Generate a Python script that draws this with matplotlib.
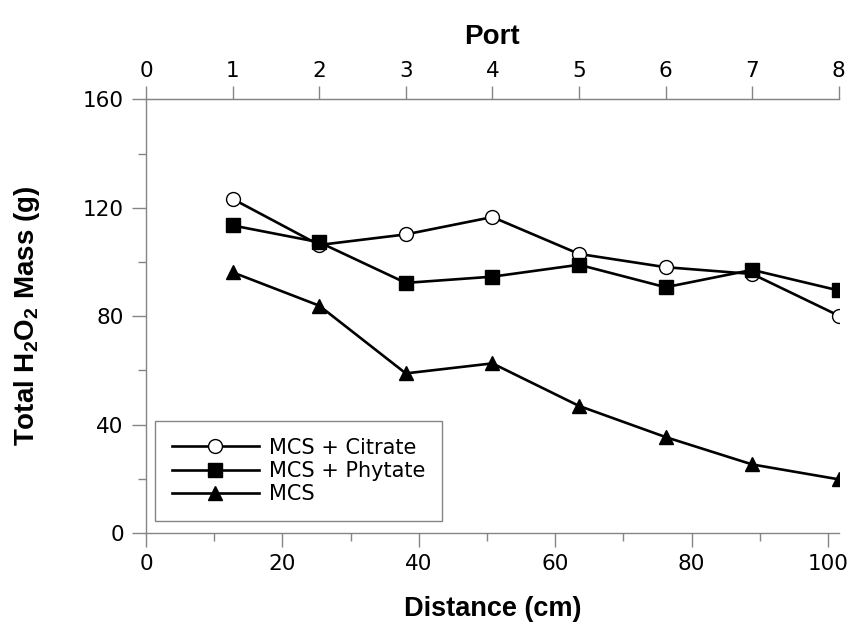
import matplotlib
matplotlib.use("Agg")
import matplotlib.pyplot as plt
from matplotlib.ticker import MultipleLocator

plt.rcParams['font.family'] = ['DejaVu Sans']
plt.rcParams['mathtext.fontset'] = 'custom'
plt.rcParams['mathtext.rm'] = 'Liberation Sans:bold'
plt.rcParams['mathtext.bf'] = 'Liberation Sans:bold'

port_spacing = 12.7
ports = [1, 2, 3, 4, 5, 6, 7, 8]
distance = [p * port_spacing for p in ports]
citrate = [123.3, 106.3, 110.2, 116.6, 103.0, 98.1, 95.6, 80.2]
phytate = [113.5, 107.3, 92.3, 94.6, 99.0, 90.7, 97.1, 89.5]
mcs = [96.2, 83.9, 58.9, 62.6, 46.9, 35.4, 25.3, 19.8]
series_labels = ["MCS + Citrate", "MCS + Phytate", "MCS"]
top_ticks = list(range(0, 9))

fig = plt.figure(figsize=(8.5, 6.22), dpi=100)
ax = fig.add_axes([0.1718, 0.1431, 0.815, 0.697])

spine_col = '#858585'
lw = 1.9
ax.plot(distance, citrate, '-o', color='black', lw=lw, ms=10, mfc='white',
        mec='black', mew=1, label=series_labels[0])
ax.plot(distance, phytate, '-s', color='black', lw=lw, ms=10, mfc='black',
        mec='black', label=series_labels[1])
ax.plot(distance, mcs, '-^', color='black', lw=lw, ms=10, mfc='black',
        mec='black', label=series_labels[2])

ax.set_xlim(0, 8 * port_spacing)
ax.set_ylim(0, 160)
ax.xaxis.set_major_locator(MultipleLocator(20))
ax.xaxis.set_minor_locator(MultipleLocator(10))
ax.yaxis.set_major_locator(MultipleLocator(40))
ax.yaxis.set_minor_locator(MultipleLocator(20))

for s in ['left', 'bottom', 'top']:
    ax.spines[s].set_color(spine_col)
    ax.spines[s].set_linewidth(1.0)
ax.spines['right'].set_visible(False)

ax.tick_params(axis='both', which='major', direction='out', length=10,
               width=1, color=spine_col, labelsize=15.5)
ax.tick_params(axis='y', which='major', pad=6)
ax.tick_params(axis='x', which='major', pad=5)
ax.tick_params(axis='both', which='minor', direction='out', length=6,
               width=1, color=spine_col)
ax.tick_params(axis='x', which='both', top=False)

sec = ax.secondary_xaxis('top', functions=(lambda x: x / port_spacing,
                                           lambda p: p * port_spacing))
sec.set_xticks(top_ticks)
sec.spines['top'].set_color(spine_col)
sec.tick_params(axis='x', which='major', direction='out', length=9.5,
                width=1, color=spine_col, labelsize=15.5, pad=4)
sec.tick_params(axis='x', which='minor', top=False)
sec.set_xlabel('Port', fontsize=20, fontweight='bold',
               family='Liberation Sans', labelpad=12)

ax.set_xlabel('Distance (cm)', fontsize=19.5, fontweight='bold',
              family='Liberation Sans')
ax.xaxis.set_label_coords(0.5, -0.1455)
ax.set_ylabel(r'Total H$_\mathregular{2}$O$_\mathregular{2}$ Mass (g)',
              fontsize=20, fontweight='bold', family='Liberation Sans')
ax.yaxis.set_label_coords(-0.150, 0.5)

leg = ax.legend(loc='lower left', bbox_to_anchor=(0.013, 0.028),
                borderaxespad=0, fontsize=15, handlelength=4.2,
                handletextpad=0.45, labelspacing=0.16, fancybox=False,
                framealpha=1, borderpad=0.8)
leg.get_frame().set_edgecolor(spine_col)
leg.get_frame().set_linewidth(1.0)

fig.savefig('out.png', dpi=100)
